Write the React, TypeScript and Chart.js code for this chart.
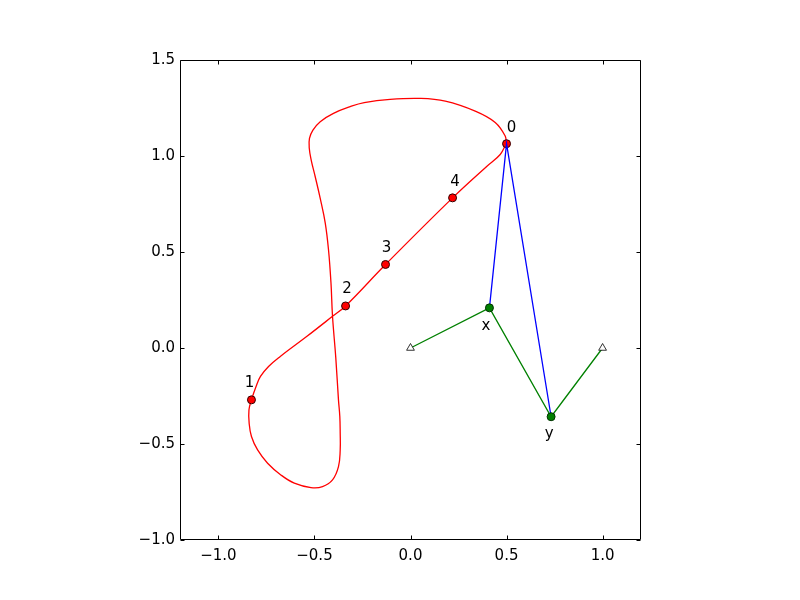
import React, { useEffect, useRef } from "react";
import { Chart, registerables } from "chart.js";

Chart.register(...registerables);

// Red closed curve, starting and ending at point 0
const curveX = [0.498, 0.493, 0.441, 0.337, 0.181, 0.050, -0.106, -0.241, -0.314, -0.401, -0.470, -0.508, -0.526, -0.527, -0.517, -0.496, -0.470, -0.444, -0.427, -0.414, -0.406, -0.389, -0.375, -0.368, -0.366, -0.366, -0.375, -0.406, -0.458, -0.518, -0.605, -0.675, -0.744, -0.796, -0.828, -0.840, -0.841, -0.828, -0.804, -0.781, -0.739, -0.678, -0.539, -0.406, -0.338, -0.130, 0.219, 0.398, 0.467, 0.498];
const curveY = [1.064, 1.104, 1.175, 1.234, 1.286, 1.300, 1.295, 1.278, 1.257, 1.222, 1.179, 1.135, 1.092, 1.040, 0.979, 0.892, 0.779, 0.652, 0.513, 0.339, 0.165, -0.050, -0.270, -0.357, -0.443, -0.531, -0.618, -0.687, -0.722, -0.727, -0.704, -0.661, -0.600, -0.531, -0.461, -0.391, -0.322, -0.270, -0.200, -0.148, -0.096, -0.044, 0.061, 0.165, 0.219, 0.435, 0.782, 0.947, 1.008, 1.064];

// Red numbered points
const pointLabels = ["0", "1", "2", "3", "4"];
const pointX = [0.500, -0.828, -0.338, -0.130, 0.219];
const pointY = [1.064, -0.270, 0.219, 0.435, 0.782];

// Green points x, y
const xyLabels = ["x", "y"];
const xyX = [0.411, 0.732];
const xyY = [0.209, -0.358];

// Triangle anchors
const anchorX = [0.0, 1.0];
const anchorY = [0.0, 0.0];

// Axis ticks
const xTicks = [-1.0, -0.5, 0.0, 0.5, 1.0];
const yTicks = [-1.0, -0.5, 0.0, 0.5, 1.0, 1.5];

const FONT = "DejaVu Sans";

const fmt = (v: number) => {
  const s = Math.abs(v).toFixed(1);
  return v < 0 ? "\u2212" + s : s;
};

const zip = (xs: number[], ys: number[]) => xs.map((x, i) => ({ x, y: ys[i] }));

const labelOffsets: Record<string, [number, number]> = {
  "0": [5, -12],
  "1": [-2, -13],
  "2": [1.5, -12.5],
  "3": [1, -12.5],
  "4": [2.5, -12],
  x: [-3.5, 22],
  y: [-2, 21.5],
};

const framePlugin = {
  id: "frame",
  afterDraw(chart: any) {
    const { ctx, chartArea } = chart;
    const xs = chart.scales.x;
    const ys = chart.scales.y;
    const l = Math.round(chartArea.left) + 0.5;
    const r = Math.round(chartArea.right) - 0.5;
    const t = Math.round(chartArea.top) + 0.5;
    const b = Math.round(chartArea.bottom) - 0.5;
    ctx.save();
    ctx.strokeStyle = "#000";
    ctx.lineWidth = 1;
    ctx.beginPath();
    ctx.rect(l, t, r - l, b - t);
    ctx.stroke();
    const tl = 4;
    ctx.beginPath();
    xTicks.forEach((v) => {
      const px = Math.round(xs.getPixelForValue(v)) + 0.5;
      ctx.moveTo(px, b);
      ctx.lineTo(px, b - tl);
      ctx.moveTo(px, t);
      ctx.lineTo(px, t + tl);
    });
    yTicks.forEach((v) => {
      const py = Math.round(ys.getPixelForValue(v)) + 0.5;
      ctx.moveTo(l, py);
      ctx.lineTo(l + tl, py);
      ctx.moveTo(r, py);
      ctx.lineTo(r - tl, py);
    });
    ctx.stroke();
    ctx.restore();
  },
};

const labelPlugin = {
  id: "pointLabels",
  afterDatasetsDraw(chart: any) {
    const { ctx } = chart;
    const xs = chart.scales.x;
    const ys = chart.scales.y;
    ctx.save();
    ctx.fillStyle = "#000";
    ctx.font = `15px "${FONT}"`;
    ctx.textAlign = "center";
    ctx.textBaseline = "alphabetic";
    const draw = (lab: string, x: number, y: number) => {
      const [dx, dy] = labelOffsets[lab] || [0, 0];
      ctx.fillText(lab, xs.getPixelForValue(x) + dx, ys.getPixelForValue(y) + dy);
    };
    pointLabels.forEach((lab, i) => draw(lab, pointX[i], pointY[i]));
    xyLabels.forEach((lab, i) => draw(lab, xyX[i], xyY[i]));
    ctx.restore();
  },
};

export default function App() {
  const ref = useRef<HTMLCanvasElement>(null);

  useEffect(() => {
    if (!ref.current) return;
    const greenPath = [
      { x: anchorX[0], y: anchorY[0] },
      ...zip(xyX, xyY),
      { x: anchorX[1], y: anchorY[1] },
    ];
    const bluePath = [
      { x: xyX[0], y: xyY[0] },
      { x: pointX[0], y: pointY[0] },
      { x: xyX[1], y: xyY[1] },
    ];
    const chart = new Chart(ref.current, {
      type: "scatter",
      data: {
        datasets: [
          {
            data: zip(anchorX, anchorY),
            showLine: false,
            pointStyle: "triangle",
            pointRadius: 4.5,
            backgroundColor: "#ffffff",
            borderColor: "#000000",
            borderWidth: 0.8,
            order: 0,
          },
          {
            data: zip(xyX, xyY),
            showLine: false,
            pointRadius: 4,
            backgroundColor: "#008000",
            borderColor: "#003300",
            borderWidth: 1,
            order: 1,
          },
          {
            data: greenPath,
            showLine: true,
            pointRadius: 0,
            borderColor: "#008000",
            borderWidth: 1.3,
            tension: 0,
            order: 2,
          },
          {
            data: bluePath,
            showLine: true,
            pointRadius: 0,
            borderColor: "#0000ff",
            borderWidth: 1.3,
            tension: 0,
            order: 3,
          },
          {
            data: zip(pointX, pointY),
            showLine: false,
            pointRadius: 4,
            backgroundColor: "#ff0000",
            borderColor: "#330000",
            borderWidth: 1,
            order: 4,
          },
          {
            data: zip(curveX, curveY),
            showLine: true,
            pointRadius: 0,
            borderColor: "#ff0000",
            borderWidth: 1.3,
            tension: 0.4,
            order: 5,
          },
        ],
      },
      options: {
        responsive: false,
        animation: false,
        events: [],
        layout: { padding: { left: 0, right: 159, top: 60, bottom: 0 } },
        plugins: {
          legend: { display: false },
          tooltip: { enabled: false },
        },
        scales: {
          x: {
            type: "linear",
            min: -1.2,
            max: 1.2,
            afterBuildTicks: (s: any) => {
              s.ticks = xTicks.map((v) => ({ value: v }));
            },
            afterFit: (s: any) => {
              s.height = 60;
            },
            grid: { display: false, drawTicks: false },
            border: { display: false },
            ticks: {
              callback: (v: any) => fmt(Number(v)),
              color: "#000",
              font: { family: FONT, size: 15 },
              padding: 7,
              maxRotation: 0,
              autoSkip: false,
            },
          },
          y: {
            type: "linear",
            min: -1.0,
            max: 1.5,
            afterBuildTicks: (s: any) => {
              s.ticks = yTicks.map((v) => ({ value: v }));
            },
            afterFit: (s: any) => {
              s.width = 180;
            },
            grid: { display: false, drawTicks: false },
            border: { display: false },
            ticks: {
              callback: (v: any) => fmt(Number(v)),
              color: "#000",
              font: { family: FONT, size: 15 },
              padding: 5,
              autoSkip: false,
            },
          },
        },
      },
      plugins: [labelPlugin, framePlugin],
    });
    return () => chart.destroy();
  }, []);

  return (
    <div style={{ position: "absolute", left: 0, top: 0, width: 800, height: 600, background: "#fff" }}>
      <canvas ref={ref} width={800} height={600} style={{ display: "block" }} />
    </div>
  );
}
